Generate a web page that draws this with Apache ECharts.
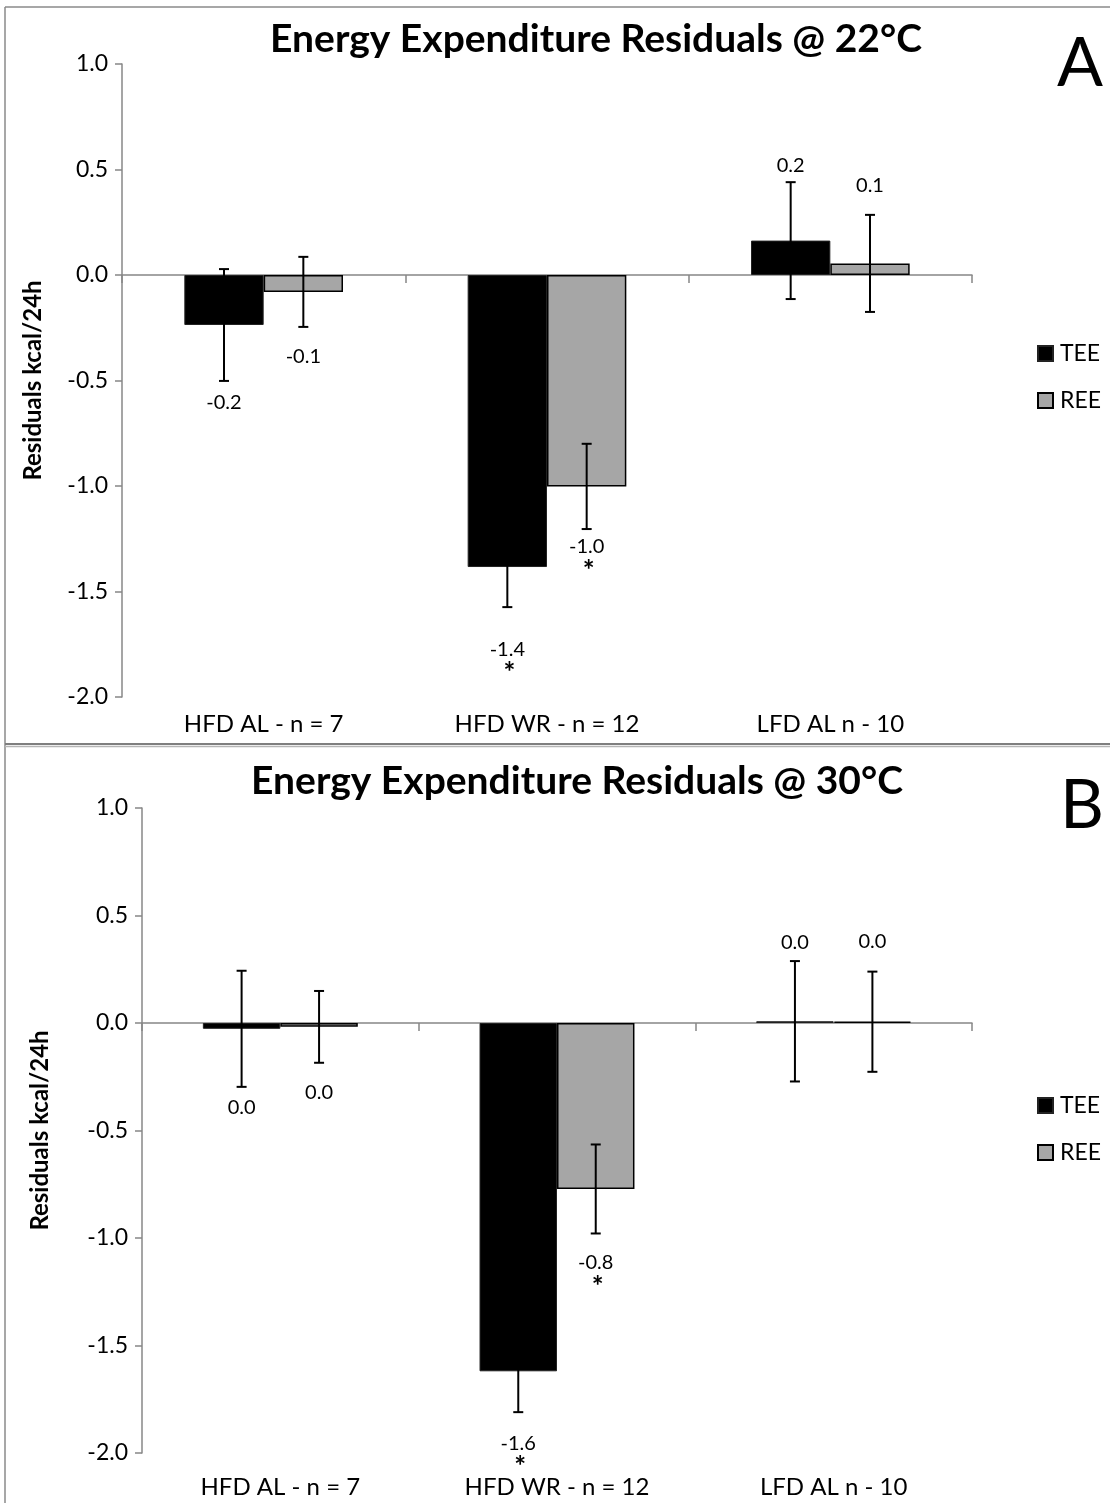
<!DOCTYPE html>
<html>
<head>
<meta charset="utf-8">
<script src="https://cdn.jsdelivr.net/npm/echarts@6/dist/echarts.min.js"></script>
<style>
html,body{margin:0;padding:0;background:#fff;}
#chart{width:1110px;height:1503px;}
</style>
</head>
<body>
<div id="chart"></div>
<script>
// ---------- data ----------
var categories = ['HFD AL - n = 7', 'HFD WR - n = 12', 'LFD AL n - 10'];
var yTicks = [-2.0, 1.0, 0.5]; // min, max, interval

// Panel A (22°C)
var tee22 = [-0.237, -1.384, 0.163];
var tee22Err = [0.265, 0.19, 0.277];
var ree22 = [-0.08, -1.002, 0.055];
var ree22Err = [0.166, 0.202, 0.23];
var tee22Sig = [false, true, false];
var ree22Sig = [false, true, false];

// Panel B (30°C)
var tee30 = [-0.027, -1.62, 0.008];
var tee30Err = [0.27, 0.19, 0.28];
var ree30 = [-0.018, -0.772, 0.006];
var ree30Err = [0.167, 0.207, 0.233];
var tee30Sig = [false, true, false];
var ree30Sig = [false, true, false];

var titles = ['Energy Expenditure Residuals @ 22\u00B0C', 'Energy Expenditure Residuals @ 30\u00B0C'];
var panelLetters = ['A', 'B'];
var seriesNames = ['TEE', 'REE'];

// ---------- layout (pixel offsets for value labels, not data) ----------
var labelGapTee22 = [22, 42, -17];
var labelGapRee22 = [30, 18, -29];
var labelGapTee30 = [21, 31, -19];
var labelGapRee30 = [30, 29, -30];

var FONT = 'Lato, "Open Sans", sans-serif';
var colTEE = '#000000';
var colREE = '#a6a6a6';
var axisGray = '#878787';

function fmt(v) {
  if (Math.abs(v) < 0.05) return '0.0';
  return v.toFixed(1);
}

function makeErrRender(side, gaps) {
  return function (params, api) {
    var idx = api.value(0), v = api.value(1), e = api.value(2), sig = api.value(3);
    var c = api.coord([idx, v]);
    var catW = api.size([1, 0])[0];
    var bw = catW * 0.28;
    var x = c[0] + side * bw / 2;
    var yTop = api.coord([idx, v + e])[1];
    var yBot = api.coord([idx, v - e])[1];
    var cap = 5;
    var st = { stroke: '#000', lineWidth: 2 };
    var g = gaps[params.dataIndex];
    var ly = g > 0 ? yBot + g : yTop + g;
    var children = [
      { type: 'line', shape: { x1: x, y1: yTop, x2: x, y2: yBot }, style: st },
      { type: 'line', shape: { x1: x - cap, y1: yTop, x2: x + cap, y2: yTop }, style: st },
      { type: 'line', shape: { x1: x - cap, y1: yBot, x2: x + cap, y2: yBot }, style: st },
      { type: 'text', style: { text: fmt(v), x: x, y: ly, textAlign: 'center', textVerticalAlign: 'middle',
          font: '20px ' + FONT, fill: '#000' } }
    ];
    if (sig) {
      children.push({ type: 'text', style: { text: '*', x: x + 2, y: ly + 24, textAlign: 'center', textVerticalAlign: 'middle',
          font: 'bold 28px ' + FONT, fill: '#000' } });
    }
    return { type: 'group', children: children };
  };
}

function errData(vals, errs, sigs) {
  return vals.map(function (v, i) { return [i, v, errs[i], sigs[i] ? 1 : 0]; });
}

var grids = [
  { left: 122, right: 138, top: 64, height: 633 },
  { left: 142, right: 138, top: 808, height: 645 }
];

var xAxes = [], yAxes = [], series = [], legends = [];
var panels = [
  { tee: tee22, teeE: tee22Err, ree: ree22, reeE: ree22Err, ts: tee22Sig, rs: ree22Sig, gt: labelGapTee22, gr: labelGapRee22, labMargin: 15, nameGap: 77, legTop: 337 },
  { tee: tee30, teeE: tee30Err, ree: ree30, reeE: ree30Err, ts: tee30Sig, rs: ree30Sig, gt: labelGapTee30, gr: labelGapRee30, labMargin: 22, nameGap: 90, legTop: 1089 }
];

panels.forEach(function (p, gi) {
  var xLine = xAxes.length;
  xAxes.push({
    type: 'category', gridIndex: gi, data: categories, position: 'bottom',
    axisLine: { show: true, onZero: true, lineStyle: { color: axisGray, width: 1.5 } },
    axisTick: { show: true, length: 8, lineStyle: { color: axisGray, width: 1.5 } },
    axisLabel: { show: false }, splitLine: { show: false }
  });
  xAxes.push({
    type: 'category', gridIndex: gi, data: categories, position: 'bottom',
    axisLine: { show: false, onZero: false }, axisTick: { show: false },
    axisLabel: { show: true, margin: p.labMargin, fontSize: 24, color: '#000', fontFamily: FONT },
    splitLine: { show: false }
  });
  yAxes.push({
    type: 'value', gridIndex: gi, min: yTicks[0], max: yTicks[1], interval: yTicks[2],
    name: 'Residuals kcal/24h', nameLocation: 'middle', nameGap: p.nameGap,
    nameTextStyle: { fontSize: 24, fontWeight: 'bold', color: '#000', fontFamily: FONT },
    axisLine: { show: true, lineStyle: { color: axisGray, width: 1.5 } },
    axisTick: { show: true, length: 7, lineStyle: { color: axisGray, width: 1.5 } },
    axisLabel: { margin: 14, fontSize: 23, color: '#000', fontFamily: FONT, formatter: function (v) { return v.toFixed(1); } },
    splitLine: { show: false }
  });
  series.push({
    name: seriesNames[0], type: 'bar', xAxisIndex: xLine, yAxisIndex: gi, data: p.tee,
    barGap: '0%', barCategoryGap: '44%',
    itemStyle: { color: colTEE, borderColor: '#222', borderWidth: 1 }, z: 2
  });
  series.push({
    name: seriesNames[1], type: 'bar', xAxisIndex: xLine, yAxisIndex: gi, data: p.ree,
    barGap: '0%', barCategoryGap: '44%',
    itemStyle: { color: colREE, borderColor: '#000', borderWidth: 1.5 }, z: 2
  });
  series.push({
    type: 'custom', xAxisIndex: xLine, yAxisIndex: gi, data: errData(p.tee, p.teeE, p.ts),
    encode: { x: 0, y: 1 }, renderItem: makeErrRender(-1, p.gt), z: 5, silent: true
  });
  series.push({
    type: 'custom', xAxisIndex: xLine, yAxisIndex: gi, data: errData(p.ree, p.reeE, p.rs),
    encode: { x: 0, y: 1 }, renderItem: makeErrRender(1, p.gr), z: 5, silent: true
  });
  legends.push({
    orient: 'vertical', left: 1032, top: p.legTop, itemWidth: 15, itemHeight: 15, itemGap: 24,
    icon: 'rect', data: seriesNames, selectedMode: false,
    textStyle: { fontSize: 23, color: '#000', fontFamily: FONT, padding: [0, 0, 0, 2] }
  });
});

var graphics = [
  { type: 'line', shape: { x1: 5, y1: 7, x2: 1110, y2: 7 }, style: { stroke: '#8a8a8a', lineWidth: 1.5 } },
  { type: 'line', shape: { x1: 5, y1: 7, x2: 5, y2: 1503 }, style: { stroke: '#8a8a8a', lineWidth: 1.5 } },
  { type: 'line', shape: { x1: 5, y1: 744, x2: 1110, y2: 744 }, style: { stroke: '#7f7f7f', lineWidth: 2 } },
  { type: 'line', shape: { x1: 5, y1: 746.5, x2: 1110, y2: 746.5 }, style: { stroke: '#b5b5b5', lineWidth: 1.5 } },
  { type: 'text', style: { text: titles[0], x: 596, y: 39, textAlign: 'center', textVerticalAlign: 'middle', font: 'bold 39px ' + FONT, fill: '#000' } },
  { type: 'text', style: { text: titles[1], x: 577, y: 781, textAlign: 'center', textVerticalAlign: 'middle', font: 'bold 39px ' + FONT, fill: '#000' } },
  { type: 'text', style: { text: panelLetters[0], x: 1080, y: 64, textAlign: 'center', textVerticalAlign: 'middle', font: '68px ' + FONT, fill: '#000' } },
  { type: 'text', style: { text: panelLetters[1], x: 1082, y: 806, textAlign: 'center', textVerticalAlign: 'middle', font: '68px ' + FONT, fill: '#000' } }
];

var chart = echarts.init(document.getElementById('chart'), null, { renderer: 'canvas' });
chart.setOption({
  backgroundColor: '#fff',
  animation: false,
  grid: grids,
  xAxis: xAxes,
  yAxis: yAxes,
  legend: legends,
  series: series,
  graphic: graphics
});
</script>
</body>
</html>
